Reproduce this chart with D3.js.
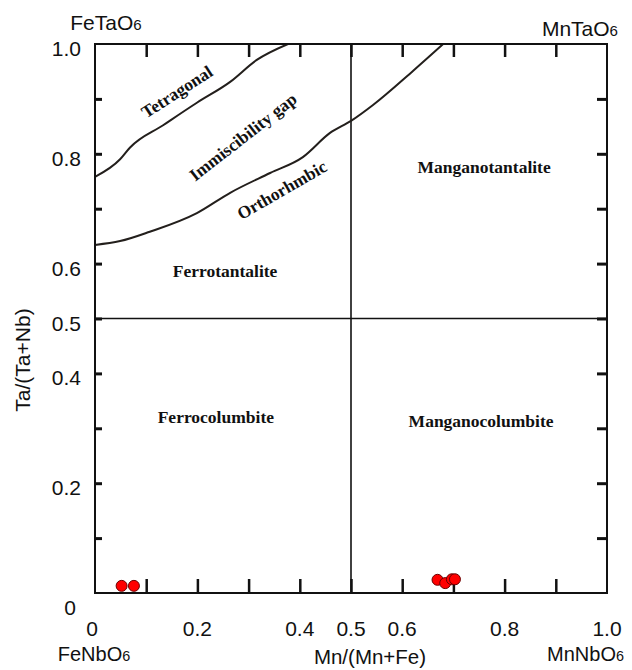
<!DOCTYPE html>
<html>
<head>
<meta charset="utf-8">
<script src="https://cdn.jsdelivr.net/npm/d3@7"></script>
<style>
  body { margin: 0; background: #fff; }
  svg { display: block; }
</style>
</head>
<body>
<div id="chart"></div>
<script>
// 边界曲线
const tetragonalX = [0, 0.049, 0.068, 0.133, 0.199, 0.264, 0.316, 0.377];
const tetragonalY = [0.758, 0.790, 0.811, 0.852, 0.893, 0.931, 0.971, 1.0];
const orthoX = [0, 0.049, 0.107, 0.199, 0.264, 0.342, 0.406, 0.459, 0.5, 0.543, 0.621, 0.680];
const orthoY = [0.634, 0.641, 0.658, 0.692, 0.729, 0.765, 0.794, 0.838, 0.860, 0.889, 0.951, 1.0];

// 样品点
const sampleX = [0.052, 0.076, 0.669, 0.684, 0.697, 0.703];
const sampleY = [0.013, 0.013, 0.024, 0.018, 0.025, 0.025];

// 刻度
const tickVals = [0.1, 0.2, 0.3, 0.4, 0.5, 0.6, 0.7, 0.8, 0.9];
const xTickLabels = [0, 0.2, 0.4, 0.5, 0.6, 0.8, 1.0];
const yTickLabels = [1.0, 0.8, 0.6, 0.5, 0.4, 0.2];

const fieldNames = ['Tetragonal', 'Immiscibility gap', 'Orthorhmbic', 'Ferrotantalite',
                    'Manganotantalite', 'Ferrocolumbite', 'Manganocolumbite'];

const W = 632, H = 670;
const x = d3.scaleLinear().domain([0, 1]).range([95, 607]);
const y = d3.scaleLinear().domain([0, 1]).range([593, 44]);

const svg = d3.select('#chart').append('svg').attr('width', W).attr('height', H);

svg.append('clipPath').attr('id', 'plot-clip')
   .append('rect').attr('x', x(0)).attr('y', y(1))
   .attr('width', x(1) - x(0)).attr('height', y(0) - y(1));

// 象限分隔线
svg.append('line').attr('x1', x(0.5)).attr('x2', x(0.5)).attr('y1', y(0)).attr('y2', y(1))
   .attr('stroke', '#111').attr('stroke-width', 1.6);
svg.append('line').attr('x1', x(0)).attr('x2', x(1)).attr('y1', y(0.5)).attr('y2', y(0.5))
   .attr('stroke', '#111').attr('stroke-width', 1.6);

// 曲线
const line = d3.line().x(d => x(d[0])).y(d => y(d[1])).curve(d3.curveMonotoneX);
const curves = [d3.zip(tetragonalX, tetragonalY), d3.zip(orthoX, orthoY)];
svg.append('g').attr('clip-path', 'url(#plot-clip)')
   .selectAll('path').data(curves).join('path')
   .attr('d', line).attr('fill', 'none')
   .attr('stroke', '#231f1c').attr('stroke-width', 2);

// 坐标轴刻度 (朝内)
const noLabel = () => '';
const styleAxis = (g, w) => {
    g.select('.domain').remove();
    g.selectAll('.tick line').attr('stroke', '#111').attr('stroke-width', w);
    g.selectAll('.tick text').remove();
};
svg.append('g').attr('transform', `translate(0,${y(0)})`)
   .call(d3.axisBottom(x).tickValues(tickVals).tickSize(-14).tickFormat(noLabel))
   .call(g => styleAxis(g, 2.5));
svg.append('g').attr('transform', `translate(0,${y(1)})`)
   .call(d3.axisTop(x).tickValues(tickVals).tickSize(-13).tickFormat(noLabel))
   .call(g => styleAxis(g, 2.5));
svg.append('g').attr('transform', `translate(${x(0)},0)`)
   .call(d3.axisLeft(y).tickValues(tickVals).tickSize(-7).tickFormat(noLabel))
   .call(g => styleAxis(g, 3));
svg.append('g').attr('transform', `translate(${x(1)},0)`)
   .call(d3.axisRight(y).tickValues(tickVals).tickSize(-10).tickFormat(noLabel))
   .call(g => styleAxis(g, 3));

// 边框
svg.append('rect').attr('x', x(0)).attr('y', y(1))
   .attr('width', x(1) - x(0)).attr('height', y(0) - y(1))
   .attr('fill', 'none').attr('stroke', '#111').attr('stroke-width', 2);

// 刻度文字
const sans = 'Liberation Sans, Arial, sans-serif';
svg.append('g').selectAll('text').data(xTickLabels).join('text')
   .attr('x', d => x(d) - (d === 0 ? 3 : 0)).attr('y', 636)
   .attr('text-anchor', 'middle').attr('font-family', sans).attr('font-size', 21)
   .attr('fill', '#111')
   .text(d => d === 0 ? '0' : d.toFixed(1));
svg.append('g').selectAll('text').data(yTickLabels).join('text')
   .attr('x', 81).attr('y', d => y(d) + 12)
   .attr('text-anchor', 'end').attr('font-family', sans).attr('font-size', 21)
   .attr('fill', '#111')
   .text(d => d.toFixed(1));
svg.append('text').attr('x', 70).attr('y', 615).attr('text-anchor', 'middle')
   .attr('font-family', sans).attr('font-size', 21).attr('fill', '#111').text('0');

// 端元与轴标题
function endMember(px, py, anchor, main, size) {
    const t = svg.append('text').attr('x', px).attr('y', py).attr('text-anchor', anchor)
                 .attr('font-family', sans).attr('font-size', size).attr('fill', '#111');
    t.append('tspan').text(main);
    t.append('tspan').attr('font-size', size * 0.72).text('6');
}
endMember(106, 30, 'middle', 'FeTaO', 21);
endMember(618, 36, 'end', 'MnTaO', 21);
endMember(94, 661, 'middle', 'FeNbO', 20);
endMember(624, 661, 'end', 'MnNbO', 20);

svg.append('text').attr('x', 370).attr('y', 664).attr('text-anchor', 'middle')
   .attr('font-family', sans).attr('font-size', 20.5).attr('fill', '#111').text('Mn/(Mn+Fe)');
svg.append('text').attr('transform', 'translate(30,360) rotate(-90)')
   .attr('text-anchor', 'middle').attr('font-family', sans).attr('font-size', 21)
   .attr('fill', '#111').text('Ta/(Ta+Nb)');

// 区域名称
const fieldPos = [[0.160, 0.913, -33], [0.289, 0.831, -38], [0.365, 0.734, -30],
                  [0.254, 0.587, 0], [0.760, 0.776, 0], [0.236, 0.321, 0], [0.754, 0.313, 0]];
svg.append('g').selectAll('text').data(fieldNames).join('text')
   .attr('transform', (d, i) => `translate(${x(fieldPos[i][0])},${y(fieldPos[i][1])}) rotate(${fieldPos[i][2]})`)
   .attr('text-anchor', 'middle').attr('dominant-baseline', 'central')
   .attr('font-family', 'Liberation Serif, Times New Roman, serif')
   .attr('font-weight', 'bold').attr('font-size', 17.5).attr('fill', '#111')
   .text(d => d);

// 样品点
svg.append('g').selectAll('circle').data(d3.zip(sampleX, sampleY)).join('circle')
   .attr('cx', d => x(d[0])).attr('cy', d => y(d[1])).attr('r', 5.5)
   .attr('fill', '#f00').attr('stroke', '#6b0000').attr('stroke-width', 1);
</script>
</body>
</html>
